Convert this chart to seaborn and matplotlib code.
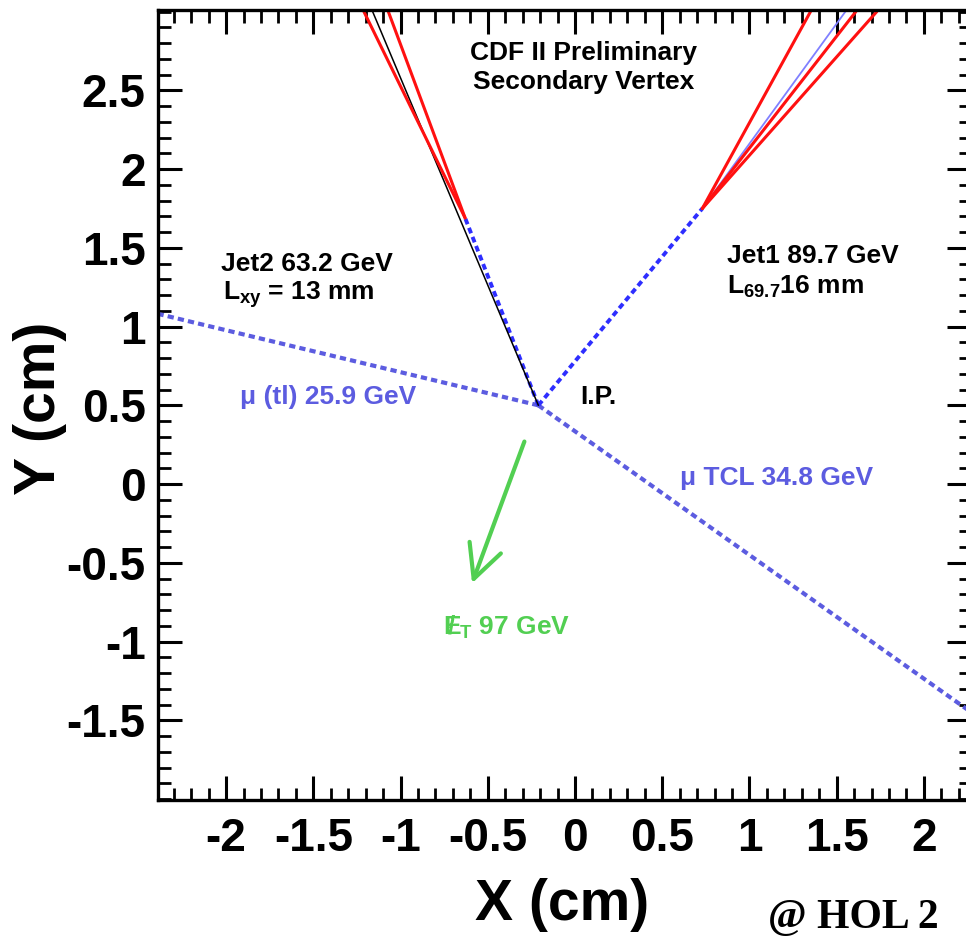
import pandas as pd
import seaborn as sns
import matplotlib
matplotlib.use('Agg')
import matplotlib.pyplot as plt
from matplotlib.ticker import MultipleLocator

# Event display values (cm)
ip = [-0.21, 0.50]
jet2_vertex = [-0.63, 1.69]
jet1_vertex = [0.73, 1.75]
track_top_y = 3.0
jet2_track_top_x = [-1.21, -1.07]
jet2_axis_top_x = -1.16
jet1_track_top_x = [1.35, 1.61, 1.73]
jet1_axis_top_x = 1.55
mu_tl_end = [-2.50, 1.11]
mu_tcl_end = [2.40, -1.55]
met_start = [-0.29, 0.27]
met_end = [-0.59, -0.63]

x_ticks = [-2, -1.5, -1, -0.5, 0, 0.5, 1, 1.5, 2]
y_ticks = [-1.5, -1, -0.5, 0, 0.5, 1, 1.5, 2, 2.5]


def segments(pairs):
    rows = []
    for i, (a, b) in enumerate(pairs):
        rows.append({'seg': i, 'x': a[0], 'y': a[1]})
        rows.append({'seg': i, 'x': b[0], 'y': b[1]})
    return pd.DataFrame(rows)


sns.set_style('ticks')
plt.rcParams['font.family'] = ['Liberation Sans', 'DejaVu Sans']
plt.rcParams['mathtext.default'] = 'regular'
plt.rcParams['text.color'] = 'black'
plt.rcParams['axes.labelcolor'] = 'black'
plt.rcParams['xtick.color'] = 'black'
plt.rcParams['ytick.color'] = 'black'

fig = plt.figure(figsize=(9.66, 9.36), dpi=100)
ax = fig.add_axes([0.1636, 0.1453, 0.8416, 0.844])

mu_blue = '#5c5ce0'
jet_blue = '#2e2eff'
green = '#52cf52'
dots = (0, (1.5, 1.0))

# muon tracks
mu_df = segments([(ip, mu_tl_end), (ip, mu_tcl_end)])
sns.lineplot(data=mu_df, x='x', y='y', units='seg', estimator=None, sort=False,
             color=mu_blue, lw=3.0, linestyle=dots, ax=ax)

# flight paths IP -> secondary vertices
fl_df = segments([(ip, jet2_vertex), (ip, jet1_vertex)])
sns.lineplot(data=fl_df, x='x', y='y', units='seg', estimator=None, sort=False,
             color=jet_blue, lw=2.8, linestyle=dots, ax=ax)

# jet axes
sns.lineplot(data=segments([(ip, [jet2_axis_top_x, track_top_y])]), x='x', y='y',
             units='seg', estimator=None, sort=False, color='black', lw=1.1, ax=ax)
sns.lineplot(data=segments([(jet1_vertex, [jet1_axis_top_x, track_top_y])]), x='x', y='y',
             units='seg', estimator=None, sort=False, color='#8080ff', lw=1.3, ax=ax)

# displaced tracks
trk_pairs = [(jet2_vertex, [tx, track_top_y]) for tx in jet2_track_top_x]
trk_pairs += [(jet1_vertex, [tx, track_top_y]) for tx in jet1_track_top_x]
sns.lineplot(data=segments(trk_pairs), x='x', y='y', units='seg', estimator=None, sort=False,
             color='#ff1010', lw=2.2, ax=ax)

# missing ET arrow
ax.annotate('', xy=met_end, xytext=met_start,
            arrowprops=dict(arrowstyle='->,head_length=0.8,head_width=0.4', lw=3,
                            color=green, mutation_scale=30, shrinkA=0, shrinkB=0))

# labels on the display
ax.text(0.05, 2.74, 'CDF II Preliminary', ha='center', va='center', fontsize=19, weight='bold')
ax.text(0.05, 2.55, 'Secondary Vertex', ha='center', va='center', fontsize=19, weight='bold')
ax.text(-2.03, 1.40, 'Jet2 63.2 GeV', ha='left', va='center', fontsize=19, weight='bold')
ax.text(-2.02, 1.20, r'L$_{xy}$ = 13 mm', ha='left', va='center', fontsize=19, weight='bold')
ax.text(0.87, 1.45, 'Jet1 89.7 GeV', ha='left', va='center', fontsize=19, weight='bold')
ax.text(0.87, 1.25, r'L$_{69.7}$16 mm', ha='left', va='center', fontsize=19, weight='bold')
ax.text(0.03, 0.55, 'I.P.', ha='left', va='center', fontsize=19, weight='bold')
ax.text(-1.92, 0.55, 'μ (tl) 25.9 GeV', ha='left', va='center', fontsize=19, weight='bold',
        color=mu_blue)
ax.text(0.60, 0.04, 'μ TCL 34.8 GeV', ha='left', va='center', fontsize=19, weight='bold',
        color=mu_blue)
ax.text(-0.755, -0.91, r'$E\!\!\!/\,{}_T$ 97 GeV', ha='left', va='center', fontsize=19,
        weight='bold', color=green)

ax.set_xlim(-2.39, 2.27)
ax.set_ylim(-2.006, 3.01)
ax.set_xticks(x_ticks)
ax.set_yticks(y_ticks)
ax.set_xticklabels([f'{v:g}' for v in x_ticks])
ax.set_yticklabels([f'{v:g}' for v in y_ticks])
ax.xaxis.set_minor_locator(MultipleLocator(0.1))
ax.yaxis.set_minor_locator(MultipleLocator(0.1))
ax.tick_params(which='both', direction='in', top=True, right=True, color='black')
ax.tick_params(which='major', length=17, width=2.2, labelsize=33)
ax.tick_params(which='minor', length=9, width=2.0)
ax.tick_params(axis='x', pad=12)
ax.tick_params(axis='y', pad=9)
for lab in ax.get_xticklabels() + ax.get_yticklabels():
    lab.set_fontweight('bold')
for sp in ax.spines.values():
    sp.set_linewidth(2.4)
    sp.set_color('black')

ax.set_xlabel('X (cm)', fontsize=41, weight='bold', va='center')
ax.set_ylabel('Y (cm)', fontsize=41, weight='bold', va='center', ha='center')
ax.xaxis.set_label_coords(0.497, -0.133)
ax.yaxis.set_label_coords(-0.145, 0.496)

fig.text(0.795, 0.0085, '@ HOL 2', fontsize=30, weight='bold', family='Liberation Serif',
         va='baseline', ha='left')

fig.savefig('out.png', dpi=100)
